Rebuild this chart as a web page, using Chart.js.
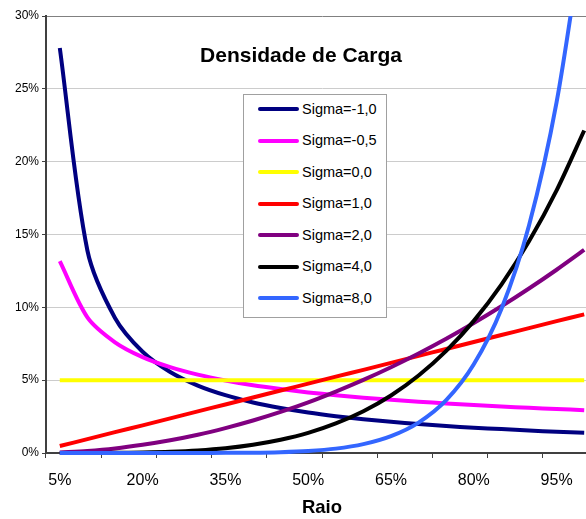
<!DOCTYPE html>
<html>
<head>
<meta charset="utf-8">
<script src="https://cdn.jsdelivr.net/npm/chart.js@4.4.0/dist/chart.umd.min.js"></script>
<style>
  html, body { margin: 0; padding: 0; background: #fff; overflow: hidden; }
  #wrap { position: relative; width: 600px; height: 519px; }
  #chartTitle {
    position: absolute; left: 151px; top: 44px; width: 300px;
    text-align: center; font: bold 21px "Liberation Sans", Arial, sans-serif;
    line-height: 21px; color: #000;
  }
  #legendBox {
    position: absolute; left: 243px; top: 94px; width: 142px; height: 222px;
    border: 1px solid #a0a0a0; background: #fff;
  }
  .legend-row {
    position: absolute; left: 0; height: 20px; display: flex; align-items: center;
    font: 14.5px "Liberation Sans", Arial, sans-serif; line-height: 14.5px; color: #000;
  }
  .legend-line { width: 41px; height: 4px; border-radius: 2px; margin-left: 14px; margin-right: 3px; }
</style>
</head>
<body>
<div id="wrap">
  <canvas id="chart" width="600" height="519"></canvas>
  <div id="chartTitle">Densidade de Carga</div>
  <div id="legendBox"></div>
</div>
<script>
// categories (raio)
const raio = ['5%', '10%', '15%', '20%', '25%', '30%', '35%', '40%', '45%', '50%',
  '55%', '60%', '65%', '70%', '75%', '80%', '85%', '90%', '95%', '100%'];

// densidade de carga (%) per sigma
const sigmaMenos1 = [27.80, 13.90, 9.27, 6.95, 5.56, 4.63, 3.97, 3.47, 3.09, 2.78,
  2.53, 2.32, 2.14, 1.99, 1.85, 1.74, 1.64, 1.54, 1.46, 1.39];
const sigmaMenos05 = [13.17, 9.31, 7.60, 6.58, 5.89, 5.38, 4.98, 4.65, 4.39, 4.16,
  3.97, 3.80, 3.65, 3.52, 3.40, 3.29, 3.19, 3.10, 3.02, 2.94];
const sigma0 = [5, 5, 5, 5, 5, 5, 5, 5, 5, 5, 5, 5, 5, 5, 5, 5, 5, 5, 5, 5];
const sigma1 = [0.48, 0.95, 1.43, 1.90, 2.38, 2.86, 3.33, 3.81, 4.29, 4.76,
  5.24, 5.71, 6.19, 6.67, 7.14, 7.62, 8.10, 8.57, 9.05, 9.52];
const sigma2 = [0.03, 0.14, 0.31, 0.56, 0.87, 1.25, 1.71, 2.23, 2.82, 3.48,
  4.22, 5.02, 5.89, 6.83, 7.84, 8.92, 10.07, 11.29, 12.58, 13.94];
const sigma4 = [0.00, 0.00, 0.01, 0.04, 0.09, 0.18, 0.33, 0.57, 0.91, 1.38,
  2.03, 2.87, 3.95, 5.32, 7.01, 9.07, 11.56, 14.53, 18.03, 22.14];
const sigma8 = [0.00, 0.00, 0.00, 0.00, 0.00, 0.00, 0.01, 0.02, 0.06, 0.14,
  0.30, 0.61, 1.16, 2.09, 3.63, 6.09, 9.89, 15.62, 24.08, 36.29];

const seriesNames = ['Sigma=-1,0', 'Sigma=-0,5', 'Sigma=0,0', 'Sigma=1,0', 'Sigma=2,0', 'Sigma=4,0', 'Sigma=8,0'];
const seriesData = [sigmaMenos1, sigmaMenos05, sigma0, sigma1, sigma2, sigma4, sigma8];
const seriesColors = ['#000080', '#ff00ff', '#ffff00', '#ff0000', '#800080', '#000000', '#3366ff'];

const yTicks = [0, 5, 10, 15, 20, 25, 30];

const FONT = '"Liberation Sans", Arial, sans-serif';

// legend drawn as html inside the plot area, like the original
const legendBox = document.getElementById('legendBox');
seriesNames.forEach((name, i) => {
    const row = document.createElement('div');
    row.className = 'legend-row';
    row.style.top = (4 + i * 31.5) + 'px';
    const line = document.createElement('span');
    line.className = 'legend-line';
    line.style.background = seriesColors[i];
    const txt = document.createElement('span');
    txt.textContent = name;
    row.appendChild(line);
    row.appendChild(txt);
    legendBox.appendChild(row);
});

const datasets = seriesData.map((values, i) => ({
    label: seriesNames[i],
    data: values,
    borderColor: seriesColors[i],
    backgroundColor: seriesColors[i],
    borderWidth: 4,
    pointRadius: 0,
    tension: 0.3,
    fill: false,
    order: seriesData.length - i, // later series on top, like Excel
    clip: { left: 5, top: 0, right: 5, bottom: 5 }
}));

new Chart(document.getElementById('chart'), {
    type: 'line',
    data: { labels: raio, datasets: datasets },
    options: {
        responsive: false,
        animation: false,
        events: [],
        layout: { padding: { top: 16, right: 2, left: 0, bottom: 0 } },
        plugins: {
            legend: { display: false },
            tooltip: { enabled: false }
        },
        scales: {
            x: {
                type: 'category',
                offset: true,
                grid: {
                    offset: true,
                    drawOnChartArea: false,
                    drawTicks: true,
                    tickLength: 5,
                    lineWidth: 1,
                    color: (ctx) => (ctx.index % 2 === 0 ? '#404040' : 'rgba(0,0,0,0)')
                },
                border: { color: '#404040', width: 2 },
                ticks: {
                    autoSkip: false,
                    maxRotation: 0,
                    padding: 13,
                    color: '#000',
                    font: { family: FONT, size: 16 },
                    callback: function(value, index) {
                        return index % 3 === 0 ? this.getLabelForValue(value) : '';
                    }
                },
                title: {
                    display: true,
                    text: 'Raio',
                    color: '#000',
                    font: { family: FONT, size: 18.5, weight: 'bold' },
                    padding: { top: 0, bottom: 0 }
                },
                afterFit: (scale) => { scale.height = 66; }
            },
            y: {
                min: 0,
                max: 30,
                afterBuildTicks: (scale) => { scale.ticks = yTicks.map(v => ({ value: v })); },
                grid: {
                    lineWidth: 1,
                    tickLength: 4,
                    tickColor: '#404040',
                    color: (ctx) => (ctx.tick && ctx.tick.value === 30 ? '#808080' : '#cccccc')
                },
                border: { color: '#404040', width: 2 },
                ticks: {
                    padding: 3,
                    color: '#000',
                    font: { family: FONT, size: 12 },
                    callback: (v) => v + '%'
                },
                afterFit: (scale) => { scale.width = 46; }
            }
        }
    }
});
</script>
</body>
</html>
